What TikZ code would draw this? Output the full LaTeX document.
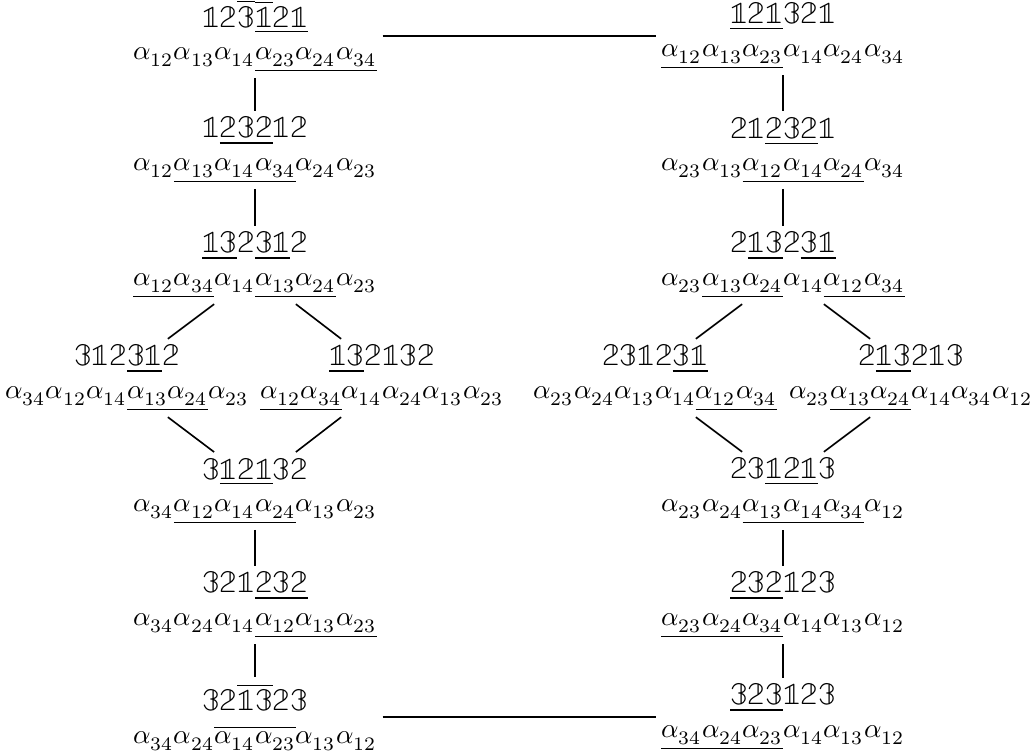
\documentclass[tikz,border=0pt]{standalone}
\usepackage{unicode-math}
\setmathfont{Latin Modern Math}
\newcommand{\al}[1]{\alpha_{#1}}
\newcommand{\bbword}[1]{{\fontsize{11.6}{12}\selectfont$#1$}}
\tikzset{
    wordnode/.style={
        align=center, % 两行：字与根序列
        inner xsep=2pt,
        inner ysep=2pt
    },
    linkline/.style={
        semithick % 连线
    }
}

\begin{document}
\begin{tikzpicture}[x=0.367pt, y=-0.367pt]
    \useasboundingbox (0,0) rectangle (1034,755);
    % 左列
    \node[wordnode] (L1) at (255,36) {\bbword{\mathbb{12}\overline{\mathbb{3}}\overline{\underline{\mathbb{1}}}\underline{\mathbb{21}}}\\
        $\al{12}\al{13}\al{14}\underline{\al{23}\al{24}\al{34}}$};
    \node[wordnode] (L2) at (255,150) {\bbword{\mathbb{1}\underline{\mathbb{232}}\mathbb{12}}\\
        $\al{12}\underline{\al{13}\al{14}\al{34}}\al{24}\al{23}$};
    \node[wordnode] (L3) at (255,265) {\bbword{\underline{\mathbb{13}}\mathbb{2}\underline{\mathbb{31}}\mathbb{2}}\\
        $\underline{\al{12}\al{34}}\al{14}\underline{\al{13}\al{24}}\al{23}$};
    \node[wordnode] (L4a) at (127,378) {\bbword{\mathbb{312}\underline{\mathbb{31}}\mathbb{2}}\\
        $\al{34}\al{12}\al{14}\underline{\al{13}\al{24}}\al{23}$};
    \node[wordnode] (L4b) at (382,378) {\bbword{\underline{\mathbb{13}}\mathbb{2132}}\\
        $\underline{\al{12}\al{34}}\al{14}\al{24}\al{13}\al{23}$};
    \node[wordnode] (L5) at (255,491) {\bbword{\mathbb{3}\underline{\mathbb{121}}\mathbb{32}}\\
        $\al{34}\underline{\al{12}\al{14}\al{24}}\al{13}\al{23}$};
    \node[wordnode] (L6) at (255,605) {\bbword{\mathbb{321}\underline{\mathbb{232}}}\\
        $\al{34}\al{24}\al{14}\underline{\al{12}\al{13}\al{23}}$};
    \node[wordnode] (L7) at (255,717) {\bbword{\mathbb{32}\overline{\mathbb{13}}\mathbb{23}}\\
        $\al{34}\al{24}\overline{\al{14}\al{23}}\al{13}\al{12}$};
    % 右列
    \node[wordnode] (R1) at (783,36) {\bbword{\underline{\mathbb{121}}\mathbb{321}}\\
        $\underline{\al{12}\al{13}\al{23}}\al{14}\al{24}\al{34}$};
    \node[wordnode] (R2) at (783,150) {\bbword{\mathbb{21}\underline{\mathbb{232}}\mathbb{1}}\\
        $\al{23}\al{13}\underline{\al{12}\al{14}\al{24}}\al{34}$};
    \node[wordnode] (R3) at (783,265) {\bbword{\mathbb{2}\underline{\mathbb{13}}\mathbb{2}\underline{\mathbb{31}}}\\
        $\al{23}\underline{\al{13}\al{24}}\al{14}\underline{\al{12}\al{34}}$};
    \node[wordnode] (R4a) at (655,378) {\bbword{\mathbb{2312}\underline{\mathbb{31}}}\\
        $\al{23}\al{24}\al{13}\al{14}\underline{\al{12}\al{34}}$};
    \node[wordnode] (R4b) at (911,378) {\bbword{\mathbb{2}\underline{\mathbb{13}}\mathbb{213}}\\
        $\al{23}\underline{\al{13}\al{24}}\al{14}\al{34}\al{12}$};
    \node[wordnode] (R5) at (783,491) {\bbword{\mathbb{23}\underline{\mathbb{121}}\mathbb{3}}\\
        $\al{23}\al{24}\underline{\al{13}\al{14}\al{34}}\al{12}$};
    \node[wordnode] (R6) at (783,605) {\bbword{\underline{\mathbb{232}}\mathbb{123}}\\
        $\underline{\al{23}\al{24}\al{34}}\al{14}\al{13}\al{12}$};
    \node[wordnode] (R7) at (783,717) {\bbword{\underline{\mathbb{323}}\mathbb{123}}\\
        $\underline{\al{34}\al{24}\al{23}}\al{14}\al{13}\al{12}$};
    % 连线
    \draw[linkline] (L1) -- (R1);
    \draw[linkline] (L7) -- (R7);
    \draw[linkline] (L1) -- (L2);
    \draw[linkline] (L2) -- (L3);
    \draw[linkline] (L5) -- (L6);
    \draw[linkline] (L6) -- (L7);
    \draw[linkline] (R1) -- (R2);
    \draw[linkline] (R2) -- (R3);
    \draw[linkline] (R5) -- (R6);
    \draw[linkline] (R6) -- (R7);
    \draw[linkline] ([xshift=-15pt]L3.south) -- ([xshift=15pt]L4a.north);
    \draw[linkline] ([xshift=15pt]L3.south) -- ([xshift=-15pt]L4b.north);
    \draw[linkline] ([xshift=15pt]L4a.south) -- ([xshift=-15pt]L5.north);
    \draw[linkline] ([xshift=-15pt]L4b.south) -- ([xshift=15pt]L5.north);
    \draw[linkline] ([xshift=-15pt]R3.south) -- ([xshift=15pt]R4a.north);
    \draw[linkline] ([xshift=15pt]R3.south) -- ([xshift=-15pt]R4b.north);
    \draw[linkline] ([xshift=15pt]R4a.south) -- ([xshift=-15pt]R5.north);
    \draw[linkline] ([xshift=-15pt]R4b.south) -- ([xshift=15pt]R5.north);
\end{tikzpicture}
\end{document}
